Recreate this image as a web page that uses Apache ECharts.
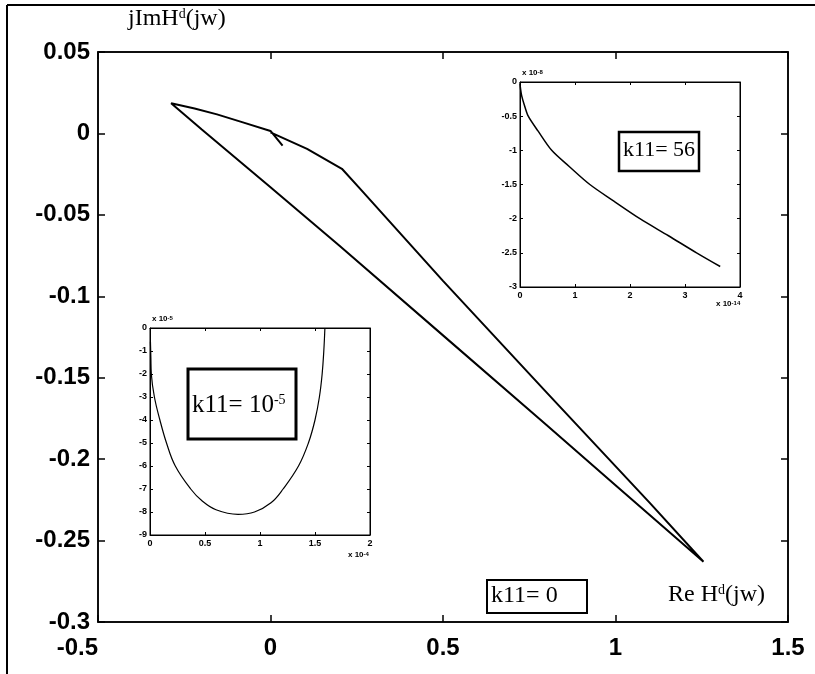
<!DOCTYPE html>
<html>
<head>
<meta charset="utf-8">
<script src="https://cdn.jsdelivr.net/npm/echarts@6/dist/echarts.min.js"></script>
<style>
  html, body { margin: 0; padding: 0; background: #fff; }
  #chart { width: 815px; height: 674px; }
</style>
</head>
<body>
<div id="chart"></div>
<script>
// main curve, k11 = 0 (Re / Im of H^d(jw))
const mainCurve = [
  [0.035, -0.0075], [0.0, 0.0015], [-0.08, 0.0068], [-0.155, 0.0117], [-0.22, 0.0153], [-0.288, 0.0185],
  [-0.2, 0.0025], [0.0, -0.033], [0.2, -0.069], [0.5, -0.124], [0.8, -0.179], [1.0, -0.216], [1.255, -0.263],
  [1.1, -0.227], [0.8, -0.159], [0.5, -0.0905], [0.26, -0.034], [0.207, -0.0217], [0.106, -0.0095], [0.0, 0.0007]
];
// inset, k11 = 56 (x 1e-14, y 1e-8)
const curveK56 = [
  [0, -0.02], [0.01, -0.1], [0.03, -0.2], [0.08, -0.34], [0.15, -0.5], [0.33, -0.72], [0.576, -1.0], [0.9, -1.24],
  [1.27, -1.5], [1.7, -1.74], [2.18, -2.0], [2.7, -2.25], [3.21, -2.5], [3.64, -2.7]
];
// inset, k11 = 1e-5 (x 1e-4, y 1e-5)
const curveK1e5 = [
  [0.004, -0.6], [0.008, -1.3], [0.012, -2.0], [0.04, -3.0], [0.09, -4.0], [0.15, -5.0], [0.23, -6.0],
  [0.37, -7.0], [0.47, -7.5], [0.6, -7.9], [0.8, -8.1], [0.95, -8.0], [1.1, -7.6], [1.21, -7.0],
  [1.35, -6.0], [1.44, -5.0], [1.5, -4.0], [1.54, -3.0], [1.565, -2.0], [1.58, -1.0], [1.59, 0]
];

const mainX = { min: -0.5, max: 1.5, interval: 0.5 };
const mainY = { min: -0.3, max: 0.05, interval: 0.05 };
const k56X = { min: 0, max: 4, interval: 1 };
const k56Y = { min: -3, max: 0, interval: 0.5 };
const k1e5X = { min: 0, max: 2, interval: 0.5 };
const k1e5Y = { min: -9, max: 0, interval: 1 };

const chart = echarts.init(document.getElementById('chart'), null, { renderer: 'canvas' });

// one pair of axes + mirrored ticks on the opposite sides (matlab "box on")
function makeAxes(gridIndex, xr, yr, fontSize, tickLen, lineW) {
  const big = fontSize > 12;
  const line = { onZero: false, lineStyle: { color: '#000', width: lineW } };
  const tick = { inside: true, length: tickLen, lineStyle: { color: '#000', width: lineW } };
  const label = { color: '#000', fontSize: fontSize, fontWeight: 'bold', fontFamily: 'Liberation Sans', margin: big ? 14 : 4 };
  const base = (r) => ({ gridIndex, type: 'value', min: r.min, max: r.max, interval: r.interval, splitLine: { show: false }, axisLine: line, axisTick: tick });
  return {
    x: [
      Object.assign(base(xr), { position: 'bottom', axisLabel: Object.assign({}, label, big ? { alignMinLabel: 'right' } : {}) }),
      Object.assign(base(xr), { position: 'top', axisLabel: { show: false } })
    ],
    y: [
      Object.assign(base(yr), { position: 'left', axisLabel: Object.assign({}, label, { margin: big ? 8 : 3 }) }),
      Object.assign(base(yr), { position: 'right', axisLabel: { show: false } })
    ]
  };
}

const axMain = makeAxes(0, mainX, mainY, 24, 7, 1.5);
const axK56 = makeAxes(1, k56X, k56Y, 9, 3, 1);
const axK1e5 = makeAxes(2, k1e5X, k1e5Y, 9, 3, 1);

const serif = 'Liberation Serif';
const expRich = {
  a: { fontFamily: 'Liberation Sans', fontWeight: 'bold', fontSize: 8, fill: '#000', verticalAlign: 'bottom' },
  s: { fontFamily: 'Liberation Sans', fontWeight: 'bold', fontSize: 6, fill: '#000', verticalAlign: 'top' }
};

const option = {
  backgroundColor: '#fff',
  animation: false,
  grid: [
    { left: 98, top: 52, width: 690, height: 570, show: true, borderColor: '#000', borderWidth: 1.5 },
    { left: 520, top: 82, width: 220, height: 205, show: true, backgroundColor: '#fff', borderColor: '#000', borderWidth: 1 },
    { left: 150, top: 328, width: 220, height: 207, show: true, backgroundColor: '#fff', borderColor: '#000', borderWidth: 1 }
  ],
  xAxis: [].concat(axMain.x, axK56.x, axK1e5.x),
  yAxis: [].concat(axMain.y, axK56.y, axK1e5.y),
  series: [
    { type: 'line', xAxisIndex: 0, yAxisIndex: 0, data: mainCurve, showSymbol: false, lineStyle: { color: '#000', width: 2 } },
    { type: 'line', xAxisIndex: 2, yAxisIndex: 2, data: curveK56, smooth: 0.3, showSymbol: false, lineStyle: { color: '#000', width: 1.5 } },
    { type: 'line', xAxisIndex: 4, yAxisIndex: 4, data: curveK1e5, smooth: 0.4, showSymbol: false, lineStyle: { color: '#000', width: 1.2 } }
  ],
  graphic: [
    // scan frame
    { type: 'line', shape: { x1: 7, y1: 5, x2: 815, y2: 5 }, style: { stroke: '#000', lineWidth: 2 } },
    { type: 'line', shape: { x1: 7, y1: 5, x2: 7, y2: 674 }, style: { stroke: '#000', lineWidth: 2 } },
    // axis titles
    { type: 'text', left: 128, top: 7, style: {
        text: '{a|jImH}{s|d}{a|(jw)}',
        rich: { a: { fontFamily: serif, fontSize: 24, fill: '#000', verticalAlign: 'bottom' }, s: { fontFamily: serif, fontSize: 14, fill: '#000', verticalAlign: 'top' } }
    } },
    { type: 'text', left: 668, top: 583, style: {
        text: '{a|Re H}{s|d}{a|(jw)}',
        rich: { a: { fontFamily: serif, fontSize: 24, fill: '#000', verticalAlign: 'bottom' }, s: { fontFamily: serif, fontSize: 14, fill: '#000', verticalAlign: 'top' } }
    } },
    // k11 = 0 box
    { type: 'rect', shape: { x: 487, y: 580, width: 100, height: 33 }, style: { fill: '#fff', stroke: '#000', lineWidth: 2 } },
    { type: 'text', left: 491, top: 584, style: { text: 'k11= 0', fontFamily: serif, fontSize: 24, fill: '#000' } },
    // k11 = 56 box
    { type: 'rect', shape: { x: 619, y: 132, width: 80, height: 39 }, style: { fill: '#fff', stroke: '#000', lineWidth: 2.5 } },
    { type: 'text', left: 623, top: 139, style: { text: 'k11= 56', fontFamily: serif, fontSize: 22, fill: '#000' } },
    // k11 = 1e-5 box
    { type: 'rect', shape: { x: 188, y: 369, width: 108, height: 70 }, style: { fill: '#fff', stroke: '#000', lineWidth: 3 } },
    { type: 'text', left: 192, top: 393, style: {
        text: '{a|k11= 10}{s|-5}',
        rich: { a: { fontFamily: serif, fontSize: 25, fill: '#000', verticalAlign: 'bottom' }, s: { fontFamily: serif, fontSize: 14, fill: '#000', verticalAlign: 'top' } }
    } },
    // exponent labels of the insets
    { type: 'text', left: 522, top: 69, style: { text: '{a|x 10}{s|-8}', rich: expRich } },
    { type: 'text', left: 716, top: 300, style: { text: '{a|x 10}{s|-14}', rich: expRich } },
    { type: 'text', left: 152, top: 315, style: { text: '{a|x 10}{s|-5}', rich: expRich } },
    { type: 'text', left: 348, top: 551, style: { text: '{a|x 10}{s|-4}', rich: expRich } }
  ]
};

chart.setOption(option);
</script>
</body>
</html>
